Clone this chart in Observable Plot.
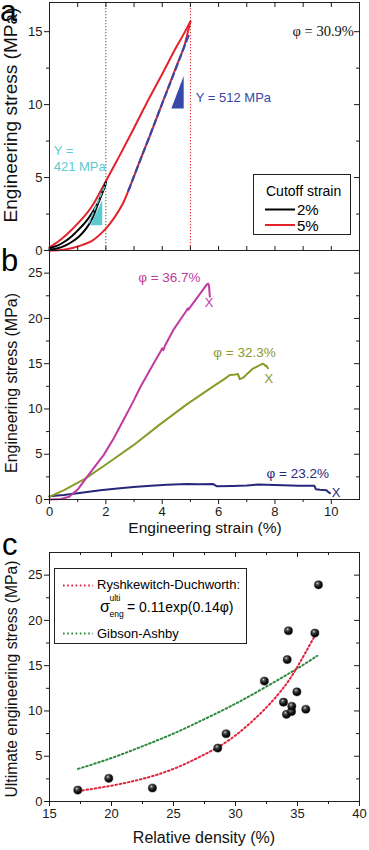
<!DOCTYPE html>
<html><head><meta charset="utf-8">
<script src="https://cdn.jsdelivr.net/npm/d3@7"></script>
<script src="https://cdn.jsdelivr.net/npm/@observablehq/plot@0.6"></script>
<style>
body{margin:0;background:#fff;}
#chart{position:relative;width:369px;height:850px;overflow:hidden;background:#fff;}
</style></head>
<body><div id="chart"></div>
<script>
// ---------------- DATA ----------------
// Panel a: cyclic loading curves (strain %, stress MPa)
const blackLoading = [[0,0.15],[0.3,0.35],[0.57,0.65],[0.8,1.0],[1.04,1.45],[1.3,2.0],[1.52,2.6],[1.75,3.4],[1.93,4.3],[2.0,4.66]];
const blackUnloading = [[2.0,4.66],[1.95,4.3],[1.84,3.8],[1.7,3.1],[1.52,2.2],[1.3,1.5],[1.04,0.95],[0.8,0.6],[0.57,0.35],[0.3,0.15],[0,0.05]];
const redLoading = [[0,0.22],[0.3,0.6],[0.57,1.02],[0.8,1.45],[1.04,1.93],[1.3,2.5],[1.52,3.07],[1.75,3.85],[2.0,4.75],[2.46,6.4],[3.0,8.4],[3.5,10.3],[4.0,12.1],[4.5,13.95],[4.78,14.9],[5.0,15.7]];
const redUnloading = [[5.0,15.7],[4.9,14.9],[4.78,14.0],[4.5,12.6],[4.0,10.1],[3.59,8.0],[3.3,6.6],[3.0,5.1],[2.8,4.1],[2.6,3.2],[2.3,2.25],[2.0,1.5],[1.52,0.68],[1.04,0.3],[0.6,0.08],[0.3,0.02],[0,0]];
const fit512 = [[2.8,4.1],[4.97,14.9]];
const fit421 = [[1.4,1.9],[2.0,4.6]];
const tri421 = [[1.46,1.7,1.7],[1.89,1.7,3.41]];   // [x, base, top]
const tri512 = [[4.34,9.7,9.7],[4.78,9.7,11.93]];
const cutoffStrains = [2, 5];
const annotA = [
  {label:"Y = 512 MPa", x:5.19, y:10.45},
  {label:"Y =", x:0.15, y:6.82},
  {label:"421 MPa", x:0.15, y:5.73}
];
const phiA = [{label:"φ = 30.9%", x:10.8, y:15.0}];

// Panel b: tensile curves
const curve367 = [[0,0],[0.4,0.05],[0.7,0.3],[1.0,1.1],[1.3,2.35],[1.6,3.6],[1.92,4.9],[2.27,6.7],[2.63,8.8],[3.0,11.0],[3.22,12.4],[3.69,15.0],[3.95,16.4],[4.0,16.7],[4.04,16.5],[4.1,17.0],[4.39,18.7],[4.87,20.9],[4.9,21.1],[4.92,20.95],[5.34,22.7],[5.57,23.7],[5.63,23.84],[5.66,23.6],[5.69,22.4]];
const curve323 = [[0,0.3],[0.5,1.0],[1.27,2.3],[2.04,3.95],[2.98,6.0],[3.92,8.3],[4.87,10.5],[5.81,12.5],[6.2,13.3],[6.4,13.75],[6.6,13.8],[6.69,13.85],[6.75,13.3],[6.85,13.4],[7.22,14.46],[7.57,15.0],[7.62,14.9],[7.66,14.75],[7.69,14.8],[7.75,14.5]];
const curve232 = [[0,0.35],[0.5,0.5],[1.0,0.7],[1.8,1.03],[2.5,1.25],[2.98,1.39],[3.6,1.52],[4.16,1.62],[4.87,1.7],[5.3,1.68],[5.81,1.7],[5.93,1.47],[6.5,1.5],[7.0,1.55],[7.42,1.66],[8.0,1.6],[8.83,1.51],[9.4,1.51],[9.45,1.14],[9.6,1.08],[9.83,1.03],[9.87,0.88],[9.95,0.7]];
const labels367 = [{label:"φ = 36.7%", x:5.36, y:24.46}];
const labels323 = [{label:"φ = 32.3%", x:5.81, y:16.18}];
const labels232 = [{label:"φ = 23.2%", x:7.7, y:2.87}];
const breakMarks = [{x:5.66, y:21.7, c:"m"},{x:7.78, y:13.36, c:"o"},{x:10.17, y:0.77, c:"n"}];

// Panel c: ultimate stress vs relative density
const density = [17.28,19.78,23.3,28.57,29.24,32.33,33.87,34.11,34.17,34.27,34.52,34.54,34.95,35.67,36.40,36.69];
const ultStress = [1.26,2.56,1.49,5.9,7.48,13.3,10.97,9.63,15.67,18.86,9.93,10.52,12.11,10.19,18.6,23.93];
const ryshkewitch = [[17.3,1.15],[20,1.75],[22.5,2.5],[25,3.6],[27.5,5.2],[30,7.3],[32.5,10.4],[34,12.8],[35,14.9],[36.4,18.3]];
const gibsonAshby = [[17.3,3.6],[20,4.8],[22.5,6.1],[25,7.5],[27.5,9.1],[30,10.8],[32.5,12.7],[35,14.7],[36.6,16.1]];

// Ticks
const xTicksA = [1,2,3,4,5,6,7,8,9,10];
const yMajA = [0,5,10,15], yMinA = [2.5,7.5,12.5];
const xMajB = [0,2,4,6,8,10], xMinB = [1,3,5,7,9];
const yMajB = [0,5,10,15,20,25], yMinB = [2.5,7.5,12.5,17.5,22.5];
const xMajC = [15,20,25,30,35,40], xMinC = [17.5,22.5,27.5,32.5,37.5];
const yMajC = [0,5,10,15,20,25], yMinC = [2.5,7.5,12.5,17.5,22.5];

// ---------------- STYLE ----------------
const FONT = '"Liberation Sans", Arial, Helvetica, sans-serif';
const SERIF = '"Liberation Serif", "Times New Roman", serif';
const W = 369, ML = 49, MR = 10, PW = W - ML - MR;
const RED = "#e4222b", CYAN = "#5cc9d1", BLUE = "#3848a8", MAG = "#c13a9f", OLIVE = "#8a9a2b", NAVY = "#27287c";
const baseStyle = {background:"transparent", fontFamily:FONT, fontSize:"13px", color:"#1a1a1a", overflow:"visible"};
const chart = document.getElementById("chart");
function place(svg, top){ svg.style.position="absolute"; svg.style.left="0px"; svg.style.top=top+"px"; chart.appendChild(svg); return svg; }
const id = d => d;

function yAxisMarks(maj, min, ph){
  return [
    Plot.axisY(maj, {tickSize:5, tickPadding:2, label:null, fontSize:13}),
    Plot.tickY(min, {y:id, insetLeft:-3, insetRight:PW}),
    Plot.tickY(maj, {y:id, insetLeft:PW-5}),
    Plot.tickY(min, {y:id, insetLeft:PW-3})
  ];
}

// ---------------- PANEL A ----------------
{
  const h = 262, mt = 2, mb = 12, ph = h - mt - mb;
  const svg = Plot.plot({
    width:W, height:h, marginLeft:ML, marginRight:MR, marginTop:mt, marginBottom:mb,
    x:{domain:[0,11], axis:null}, y:{domain:[0,17], axis:null},
    style:baseStyle,
    marks:[
      Plot.ruleX(cutoffStrains, {x:id, stroke:(d,i)=> i===0 ? "#555" : RED, strokeDasharray:"1.3,1.7", strokeWidth:1}),
      Plot.line(redLoading, {stroke:RED, strokeWidth:2, curve:"catmull-rom"}),
      Plot.line(redUnloading, {stroke:RED, strokeWidth:2, curve:"catmull-rom"}),
      Plot.line(blackLoading, {stroke:"#000", strokeWidth:2, curve:"catmull-rom"}),
      Plot.line(blackUnloading, {stroke:"#000", strokeWidth:2, curve:"catmull-rom"}),
      Plot.areaY(tri421, {x:d=>d[0], y1:d=>d[1], y2:d=>d[2], fill:CYAN, curve:"linear"}),
      Plot.areaY(tri512, {x:d=>d[0], y1:d=>d[1], y2:d=>d[2], fill:BLUE, curve:"linear"}),
      Plot.line(fit512, {stroke:BLUE, strokeWidth:2.2, strokeDasharray:"6,4"}),
      Plot.line(fit421, {stroke:CYAN, strokeWidth:1.5, strokeDasharray:"4,3"}),
      Plot.text(annotA.slice(0,1), {x:"x", y:"y", text:"label", fill:BLUE, textAnchor:"start", fontSize:13, fontFamily:FONT}),
      Plot.text(annotA.slice(1), {x:"x", y:"y", text:"label", fill:CYAN, textAnchor:"start", fontSize:13, fontFamily:FONT}),
      Plot.text(phiA, {x:"x", y:"y", text:"label", fill:"#111", textAnchor:"end", fontSize:14.5, fontFamily:SERIF}),
      Plot.frame({stroke:"#222"}),
      ...yAxisMarks(yMajA, yMinA, ph),
      Plot.tickX(xTicksA, {x:id, insetBottom:ph-5}),
      Plot.tickX(xTicksA, {x:id, insetTop:ph-4})
    ]
  });
  place(svg, 0);
}

// ---------------- PANEL B ----------------
{
  const h = 290, mt = 0, mb = 41, ph = h - mt - mb;
  const svg = Plot.plot({
    width:W, height:h, marginLeft:ML, marginRight:MR, marginTop:mt, marginBottom:mb,
    x:{domain:[0,11], axis:null}, y:{domain:[0,27.5], axis:null},
    style:baseStyle,
    marks:[
      Plot.line(curve232, {stroke:NAVY, strokeWidth:2}),
      Plot.line(curve323, {stroke:OLIVE, strokeWidth:2}),
      Plot.line(curve367, {stroke:MAG, strokeWidth:2}),
      Plot.text(labels367, {x:"x", y:"y", text:"label", fill:MAG, textAnchor:"end", fontSize:13.5, fontFamily:FONT}),
      Plot.text(labels323, {x:"x", y:"y", text:"label", fill:OLIVE, textAnchor:"start", fontSize:13.5, fontFamily:FONT}),
      Plot.text(labels232, {x:"x", y:"y", text:"label", fill:NAVY, textAnchor:"start", fontSize:13.5, fontFamily:FONT}),
      Plot.text(breakMarks, {x:"x", y:"y", text:()=>"X", fill:d=> d.c==="m"?MAG: d.c==="o"?OLIVE:NAVY, fontSize:13, fontFamily:FONT}),
      Plot.frame({stroke:"#222"}),
      ...yAxisMarks(yMajB, yMinB, ph),
      Plot.axisX(xMajB, {tickSize:5, tickPadding:2, label:null, fontSize:13}),
      Plot.tickX(xMinB, {x:id, insetTop:ph, insetBottom:-3})
    ]
  });
  place(svg, 250);
}

// ---------------- PANEL C ----------------
{
  const h = 320, mt = 22, mb = 49, ph = h - mt - mb;
  const pts = density.map((d,i)=>({x:d, y:ultStress[i]}));
  const svg = Plot.plot({
    width:W, height:h, marginLeft:ML, marginRight:MR, marginTop:mt, marginBottom:mb,
    x:{domain:[15,40], axis:null}, y:{domain:[0,27.5], axis:null},
    style:baseStyle,
    marks:[
      Plot.line(gibsonAshby, {stroke:"#2e8b3c", strokeWidth:2, strokeDasharray:"1.6,2.6", curve:"natural"}),
      Plot.line(ryshkewitch, {stroke:"#e2223c", strokeWidth:2, strokeDasharray:"1.6,2.6", curve:"natural"}),
      Plot.dot(pts, {x:"x", y:"y", r:4.1, fill:"url(#sphere)", stroke:"#000", strokeWidth:0.4}),
      Plot.frame({stroke:"#222"}),
      ...yAxisMarks(yMajC, yMinC, ph),
      Plot.axisX(xMajC, {tickSize:5, tickPadding:2, label:null, fontSize:13}),
      Plot.tickX(xMinC, {x:id, insetTop:ph, insetBottom:-3}),
      Plot.tickX(xMajC, {x:id, insetBottom:ph-5}),
      Plot.tickX(xMinC, {x:id, insetBottom:ph-3})
    ]
  });
  const defs = d3.select(svg).insert("defs", ":first-child");
  const g = defs.append("radialGradient").attr("id","sphere").attr("cx","38%").attr("cy","32%").attr("r","70%");
  g.append("stop").attr("offset","0%").attr("stop-color","#d8d8d8");
  g.append("stop").attr("offset","22%").attr("stop-color","#5a5a5a");
  g.append("stop").attr("offset","60%").attr("stop-color","#141414");
  g.append("stop").attr("offset","100%").attr("stop-color","#000");
  place(svg, 530);
}

// ---------------- OVERLAY: panel letters, titles, legends ----------------
const ov = d3.select(chart).append("svg").attr("width",W).attr("height",850)
  .style("position","absolute").style("left","0px").style("top","0px")
  .style("font-family", FONT).style("pointer-events","none");

ov.append("text").attr("x",0).attr("y",21).attr("font-size",30).text("a");
ov.append("text").attr("x",1).attr("y",271).attr("font-size",31).text("b");
ov.append("text").attr("x",2).attr("y",555).attr("font-size",31).text("c");

function vTitle(txt, cx, cy, fs, len){
  ov.append("text").attr("transform",`translate(${cx},${cy}) rotate(-90)`)
    .attr("text-anchor","middle").attr("font-size",fs).attr("fill","#111")
    .attr("textLength",len).attr("lengthAdjust","spacingAndGlyphs").text(txt);
}
vTitle("Engineering stress (MPa)", 17, 115, 17.5, 215);
vTitle("Engineering stress (MPa)", 16.5, 383, 16.5, 180);
vTitle("Ultimate engineering stress (MPa)", 16.5, 679, 15.8, 237);
ov.append("text").attr("x",205).attr("y",533).attr("text-anchor","middle").attr("font-size",15.5).attr("fill","#111").text("Engineering strain (%)");
ov.append("text").attr("x",204).attr("y",843).attr("text-anchor","middle").attr("font-size",16).attr("fill","#111").text("Relative density (%)");

// legend a
ov.append("rect").attr("x",253.5).attr("y",174.5).attr("width",97).attr("height",60).attr("fill","#fff").attr("stroke","#222");
ov.append("text").attr("x",266).attr("y",196).attr("font-size",14).text("Cutoff strain");
ov.append("line").attr("x1",265).attr("x2",295).attr("y1",209.5).attr("y2",209.5).attr("stroke","#000").attr("stroke-width",2);
ov.append("text").attr("x",297).attr("y",214.5).attr("font-size",15).text("2%");
ov.append("line").attr("x1",265).attr("x2",295).attr("y1",225).attr("y2",225).attr("stroke",RED).attr("stroke-width",2);
ov.append("text").attr("x",297).attr("y",230.5).attr("font-size",15).text("5%");

// legend c
ov.append("rect").attr("x",54.5).attr("y",568.5).attr("width",192).attr("height",75).attr("fill","#fff").attr("stroke","#222");
ov.append("line").attr("x1",63).attr("x2",93).attr("y1",585.5).attr("y2",585.5).attr("stroke","#e2223c").attr("stroke-width",2).attr("stroke-dasharray","1.6,2.6");
ov.append("text").attr("x",97).attr("y",589).attr("font-size",13).text("Ryshkewitch-Duchworth:");
ov.append("text").attr("x",100).attr("y",612).attr("font-size",16).text("σ");
ov.append("text").attr("x",109.5).attr("y",600.5).attr("font-size",8.5).text("ulti");
ov.append("text").attr("x",109.5).attr("y",617).attr("font-size",8.5).text("eng");
ov.append("text").attr("x",127).attr("y",612).attr("font-size",14).text("= 0.11exp(0.14φ)");
ov.append("line").attr("x1",63).attr("x2",93).attr("y1",633.5).attr("y2",633.5).attr("stroke","#2e8b3c").attr("stroke-width",2).attr("stroke-dasharray","1.6,2.6");
ov.append("text").attr("x",97).attr("y",638).attr("font-size",13).text("Gibson-Ashby");
</script>
</body></html>
